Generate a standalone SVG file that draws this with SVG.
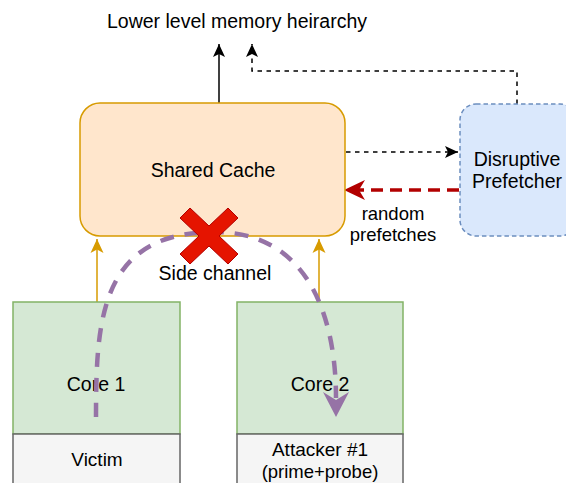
<svg xmlns="http://www.w3.org/2000/svg" width="566" height="483" viewBox="0 0 566 483">
  <style>
    text { font-family: "Liberation Sans", Arial, Helvetica, sans-serif; font-size: 19.5px; fill: #000; text-anchor: middle; }
    .small { font-size: 18.5px; }
    .conn { fill: none; }
  </style>
  <defs>
    <marker id="arrBlack" markerUnits="userSpaceOnUse" markerWidth="16" markerHeight="16" viewBox="-14 -8 16 16" refX="0" refY="0" orient="auto">
      <path d="M0,0 L-13,-6 L-10,0 L-13,6 Z" fill="#000"/>
    </marker>
    <marker id="arrOrange" markerUnits="userSpaceOnUse" markerWidth="16" markerHeight="16" viewBox="-14 -8 16 16" refX="0" refY="0" orient="auto">
      <path d="M0,0 L-14,-6.5 L-10.5,0 L-14,6.5 Z" fill="#d79b00"/>
    </marker>
    <marker id="arrRed" markerUnits="userSpaceOnUse" markerWidth="24" markerHeight="24" viewBox="-22 -12 24 24" refX="0" refY="0" orient="auto">
      <path d="M0,0 L-21,-10 L-15,0 L-21,10 Z" fill="#b20000"/>
    </marker>
  </defs>

  <!-- connectors -->
  <g id="connectors">
    <!-- cache to lower memory -->
    <path class="conn" d="M219,103 V44" stroke="#000" stroke-width="1.5" marker-end="url(#arrBlack)"/>
    <!-- prefetcher to lower memory -->
    <path class="conn" d="M517,104 V71 H252 V44" stroke="#000" stroke-width="1.5" stroke-dasharray="4.5 4.5" marker-end="url(#arrBlack)"/>
    <!-- cache to prefetcher -->
    <path class="conn" d="M346,152 H458" stroke="#000" stroke-width="1.5" stroke-dasharray="4.5 4.5" marker-end="url(#arrBlack)"/>
    <!-- random prefetches -->
    <path class="conn" d="M459,190 H344" stroke="#b20000" stroke-width="3.5" stroke-dasharray="12 7" marker-end="url(#arrRed)"/>
    <!-- cores to cache -->
    <path class="conn" d="M97,302 V239" stroke="#d79b00" stroke-width="1.5" marker-end="url(#arrOrange)"/>
    <path class="conn" d="M319,302 V239" stroke="#d79b00" stroke-width="1.5" marker-end="url(#arrOrange)"/>
  </g>

  <!-- shared cache -->
  <g id="shared-cache">
    <rect x="80" y="103" width="265" height="133" rx="20" ry="20" fill="#ffe6cc" stroke="#d79b00" stroke-width="1.5"/>
    <text x="213" y="177">Shared Cache</text>
  </g>

  <!-- disruptive prefetcher -->
  <g id="prefetcher">
    <rect x="460" y="104" width="116" height="132" rx="16" ry="16" fill="#dae8fc" stroke="#6c8ebf" stroke-width="1.5" stroke-dasharray="4.5 3"/>
    <text x="517" y="166">Disruptive</text>
    <text x="517" y="188">Prefetcher</text>
  </g>

  <g id="lower-memory">
    <text x="237" y="28">Lower level memory heirarchy</text>
  </g>

  <g id="random-label">
    <text class="small" x="393" y="220">random</text>
    <text class="small" x="393" y="241">prefetches</text>
  </g>

  <!-- core 1 with victim -->
  <g id="core1">
    <rect x="13" y="302" width="167" height="132" fill="#d5e8d4" stroke="#82b366" stroke-width="1.5"/>
    <text x="96" y="391">Core 1</text>
  </g>
  <g id="victim">
    <rect x="13" y="434" width="167" height="60" fill="#f5f5f5" stroke="#666666" stroke-width="1.5"/>
    <text x="97" y="466" style="font-size:19px">Victim</text>
  </g>

  <!-- core 2 with attacker -->
  <g id="core2">
    <rect x="237" y="302" width="166" height="132" fill="#d5e8d4" stroke="#82b366" stroke-width="1.5"/>
    <text x="320" y="391">Core 2</text>
  </g>
  <g id="attacker">
    <rect x="237" y="434" width="166" height="60" fill="#f5f5f5" stroke="#666666" stroke-width="1.5"/>
    <text x="320" y="456" style="font-size:19px">Attacker #1</text>
    <text x="320" y="478" class="small">(prime+probe)</text>
  </g>

  <!-- side channel path -->
  <g id="side-channel">
    <path d="M96,417 C96,320 100,232 215,232 C310,232 336,320 336,398" fill="none" stroke="#9673a6" stroke-width="4.5" stroke-dasharray="14 11"/>
    <path d="M336,417 L323,392 L336,400 L349,392 Z" fill="#9673a6"/>
    <text x="215" y="280">Side channel</text>
  </g>

  <!-- blocked marker -->
  <g id="block-x">
    <polygon points="180,218 190,208 209,226 228,208 238,218 219,236 238,254 228,264 209,246 190,264 180,254 199,236" fill="#e51400" stroke="#b20000" stroke-width="1"/>
  </g>
</svg>
